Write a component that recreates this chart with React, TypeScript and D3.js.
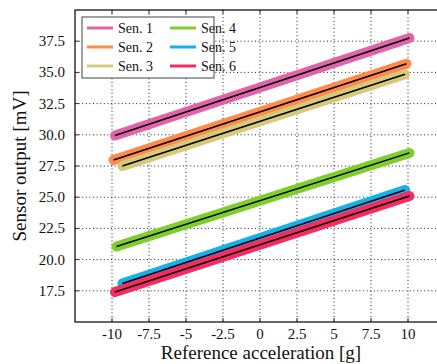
import React from "react";
import * as d3 from "d3";

const sensors = ["Sen. 1", "Sen. 2", "Sen. 3", "Sen. 4", "Sen. 5", "Sen. 6"];
const colors = ["#e163aa", "#ff8a4c", "#d6c97c", "#7fcf2c", "#14b2e8", "#f72a62"];
const xStart = [-9.8, -9.9, -9.3, -9.7, -9.3, -9.8];
const xEnd = [10.1, 9.9, 9.8, 10.1, 9.8, 10.1];
const yStart = [29.95, 27.98, 27.5, 21.05, 18.08, 17.4];
const yEnd = [37.75, 35.7, 34.85, 28.55, 25.58, 25.1];

const xTicks = [-10, -7.5, -5, -2.5, 0, 2.5, 5, 7.5, 10];
const xTickLabels = ["-10", "-7.5", "-5", "-2.5", "0", "2.5", "5", "7.5", "10"];
const yTicks = [17.5, 20, 22.5, 25, 27.5, 30, 32.5, 35, 37.5];

const W = 437, H = 364;
const L = 75, R = 445, T = 10, B = 322;
const FF = "Liberation Serif";

export default function App() {
  const x = d3.scaleLinear().domain([-12.5, 12.5]).range([L, R]);
  const y = d3.scaleLinear().domain([15, 40]).range([B, T]);
  const line = d3.line<[number, number]>().x(d => x(d[0])).y(d => y(d[1]));
  const pts = sensors.map((_, i) => [[xStart[i], yStart[i]], [xEnd[i], yEnd[i]]] as [number, number][]);

  return (
    <svg width={W} height={H} style={{ position: "absolute", left: 0, top: 0, background: "#fff" }}>
      <defs>
        <clipPath id="plot">
          <rect x={L} y={T} width={R - L} height={B - T} />
        </clipPath>
      </defs>
      <rect width={W} height={H} fill="#fff" />
      <g clipPath="url(#plot)">
        {xTicks.map(t => (
          <line key={"gx" + t} x1={x(t)} x2={x(t)} y1={T} y2={B} stroke="#222" strokeWidth={1} strokeDasharray="1,2.6" />
        ))}
        {yTicks.map(t => (
          <line key={"gy" + t} x1={L} x2={R} y1={y(t)} y2={y(t)} stroke="#222" strokeWidth={1} strokeDasharray="1,2.6" />
        ))}
        {pts.map((p, i) => (
          <path key={"b" + i} d={line(p) || ""} stroke={colors[i]} strokeWidth={10} strokeLinecap="round" fill="none" />
        ))}
        {pts.map((p, i) => (
          <path key={"f" + i} d={line(p) || ""} stroke="#000" strokeWidth={1.5} fill="none" />
        ))}
      </g>
      {xTicks.map(t => (
        <g key={"tx" + t}>
          <line x1={x(t)} x2={x(t)} y1={B} y2={B - 4} stroke="#000" strokeWidth={0.8} />
          <line x1={x(t)} x2={x(t)} y1={T} y2={T + 4} stroke="#000" strokeWidth={0.8} />
        </g>
      ))}
      {yTicks.map(t => (
        <g key={"ty" + t}>
          <line x1={L} x2={L + 4} y1={y(t)} y2={y(t)} stroke="#000" strokeWidth={0.8} />
          <line x1={R} x2={R - 4} y1={y(t)} y2={y(t)} stroke="#000" strokeWidth={0.8} />
        </g>
      ))}
      <rect x={L} y={T} width={R - L} height={B - T} fill="none" stroke="#000" strokeWidth={1.2} />
      {xTicks.map((t, i) => (
        <text key={"lx" + t} x={x(t)} y={338.5} textAnchor="middle" fontSize={15} fill="#111" fontFamily={FF}>{xTickLabels[i]}</text>
      ))}
      {yTicks.map(t => (
        <text key={"ly" + t} x={65} y={y(t) + 5} textAnchor="end" fontSize={15} fill="#111" fontFamily={FF}>{t.toFixed(1)}</text>
      ))}
      <text x={261} y={359} textAnchor="middle" fontSize={19} fill="#111" fontFamily={FF}>Reference acceleration [g]</text>
      <text transform={`translate(26,${(T + B) / 2}) rotate(-90)`} textAnchor="middle" fontSize={19} fill="#111" fontFamily={FF}>Sensor output [mV]</text>
      <rect x={82} y={17} width={132} height={61} fill="#fff" stroke="#444" strokeWidth={1} />
      {sensors.map((s, i) => {
        const col = Math.floor(i / 3), row = i % 3;
        const lx = 87 + col * 83, ly = 28 + row * 19;
        return (
          <g key={"lg" + i}>
            <line x1={lx} x2={lx + 26} y1={ly} y2={ly} stroke={colors[i]} strokeWidth={3} />
            <text x={lx + 31} y={ly + 4.5} fontSize={14} fill="#111" fontFamily={FF}>{s}</text>
          </g>
        );
      })}
    </svg>
  );
}
